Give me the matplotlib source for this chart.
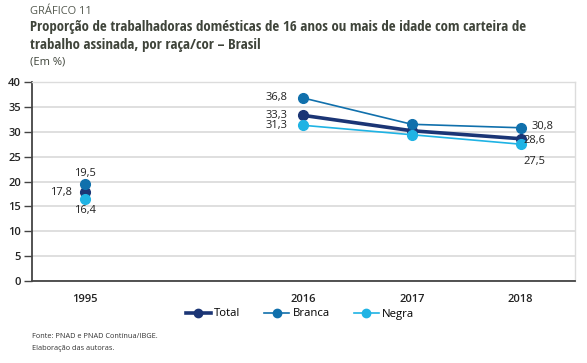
import matplotlib.pyplot as plt
from matplotlib.lines import Line2D

# data
years = ['1995', '2016', '2017', '2018']
total = [17.8, 33.3, 30.2, 28.6]
branca = [19.5, 36.8, 31.5, 30.8]
negra = [16.4, 31.3, 29.4, 27.5]

plt.rcParams['font.family'] = ['Open Sans SemiCondensed', 'Open Sans', 'DejaVu Sans']
title_font = ['Open Sans Condensed', 'Open Sans SemiCondensed', 'DejaVu Sans']

c_total = '#1b3575'
c_branca = '#1070ac'
c_negra = '#1fb3e4'
txt = '#222222'

fig = plt.figure(figsize=(5.87, 3.63), dpi=100)
W, H = 587, 363
ax = fig.add_axes([32 / W, 1 - 281 / H, (575 - 32) / W, (281 - 82) / H])

# 1995 sits on its own, with an empty slot before 2016
xpos = [0, 2, 3, 4]

series = [
    ('Total', total, c_total, 2.6),
    ('Branca', branca, c_branca, 1.2),
    ('Negra', negra, c_negra, 1.2),
]
for name, vals, col, lw in series:
    ax.plot(xpos[1:], vals[1:], color=col, lw=lw, marker='o', ms=7, zorder=3)
    ax.plot(xpos[:1], vals[:1], color=col, marker='o', ms=7, ls='none', zorder=3)

def fmt(v):
    return f'{v:.1f}'.replace('.', ',')

lab = dict(fontsize=8, color=txt)
# 1995 labels
ax.text(xpos[0], branca[0] + 1.0, fmt(branca[0]), ha='center', va='bottom', **lab)
ax.text(xpos[0] - 0.12, total[0], fmt(total[0]), ha='right', va='center', **lab)
ax.text(xpos[0], negra[0] - 1.1, fmt(negra[0]), ha='center', va='top', **lab)
# 2016 labels
for vals in (branca, total, negra):
    ax.text(xpos[1] - 0.14, vals[1], fmt(vals[1]), ha='right', va='center', **lab)
# 2018 labels
ax.text(xpos[3] + 0.1, branca[3] + 0.3, fmt(branca[3]), ha='left', va='center', **lab)
ax.text(xpos[3] + 0.03, total[3] - 0.4, fmt(total[3]), ha='left', va='center', **lab)
ax.text(xpos[3] + 0.13, negra[3] - 3.4, fmt(negra[3]), ha='center', va='center', **lab)

ax.set_xlim(-0.49, 4.5)
ax.set_ylim(0, 40)
ax.set_yticks(range(0, 41, 5))
ax.set_xticks(xpos)
ax.set_xticklabels(years)
ax.tick_params(axis='x', length=0, pad=9, labelsize=8, labelcolor=txt)
ax.tick_params(axis='y', length=6, width=1, color='#444444', pad=2, labelsize=8, labelcolor=txt)
for t in ax.get_xticklabels() + ax.get_yticklabels():
    t.set_fontweight('semibold')

ax.grid(axis='y', color='#dcdcdc', lw=1.3)
ax.set_axisbelow(True)
for s in ('left', 'bottom'):
    ax.spines[s].set_color('#444444')
    ax.spines[s].set_linewidth(1.3)
for s in ('top', 'right'):
    ax.spines[s].set_color('#dcdcdc')
    ax.spines[s].set_linewidth(1.0)

handles = [Line2D([], [], color=col, lw=lw, marker='o', ms=6) for _, _, col, lw in series]
fig.legend(handles, [s[0] for s in series], loc='center', bbox_to_anchor=(300 / W, 1 - 314 / H),
           ncol=3, frameon=False, fontsize=8.2, handlelength=2.2, handletextpad=0.3,
           columnspacing=2.1)

# titles and notes
fig.text(30 / W, 1 - 14 / H, 'GRÁFICO 11', fontsize=8, color='#555a50', va='baseline')
fig.text(30 / W, 1 - 30.5 / H,
         'Proporção de trabalhadoras domésticas de 16 anos ou mais de idade com carteira de',
         fontsize=10.7, fontweight='bold', color='#3f443a', va='baseline', family=title_font)
fig.text(30 / W, 1 - 49.5 / H, 'trabalho assinada, por raça/cor – Brasil',
         fontsize=10.7, fontweight='bold', color='#3f443a', va='baseline', family=title_font)
fig.text(30 / W, 1 - 65 / H, '(Em %)', fontsize=8, color='#3f443a', va='baseline')
fig.text(32 / W, 1 - 336 / H, 'Fonte: PNAD e PNAD Contínua/IBGE.', fontsize=5.3, color='#333333',
         va='center')
fig.text(32 / W, 1 - 348 / H, 'Elaboração das autoras.', fontsize=5.3, color='#333333',
         va='center')

fig.savefig('out.png', dpi=100)
